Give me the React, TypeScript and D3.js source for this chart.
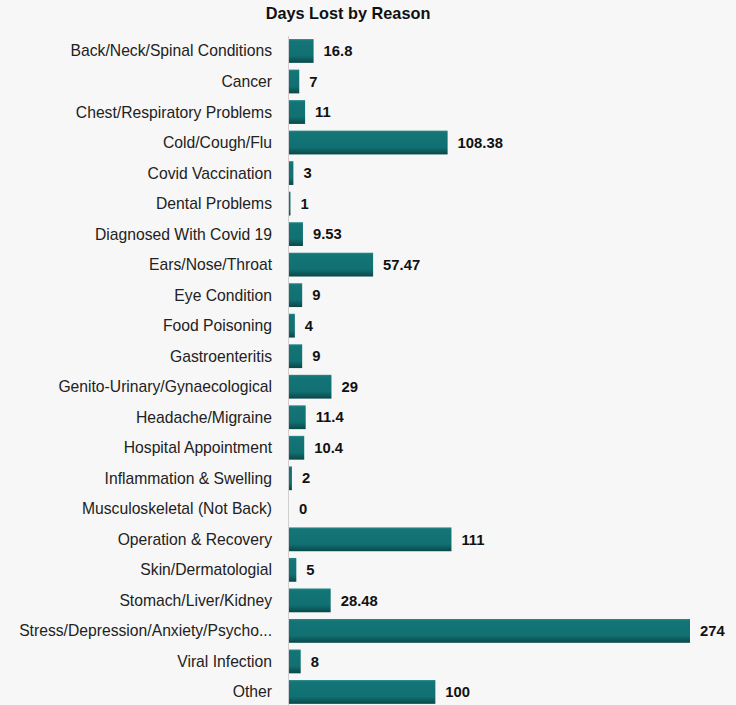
import React from "react";
import * as d3 from "d3";

const categories = [
  "Back/Neck/Spinal Conditions",
  "Cancer",
  "Chest/Respiratory Problems",
  "Cold/Cough/Flu",
  "Covid Vaccination",
  "Dental Problems",
  "Diagnosed With Covid 19",
  "Ears/Nose/Throat",
  "Eye Condition",
  "Food Poisoning",
  "Gastroenteritis",
  "Genito-Urinary/Gynaecological",
  "Headache/Migraine",
  "Hospital Appointment",
  "Inflammation & Swelling",
  "Musculoskeletal (Not Back)",
  "Operation & Recovery",
  "Skin/Dermatologial",
  "Stomach/Liver/Kidney",
  "Stress/Depression/Anxiety/Psycho...",
  "Viral Infection",
  "Other",
];
const values = [16.8, 7, 11, 108.38, 3, 1, 9.53, 57.47, 9, 4, 9, 29, 11.4, 10.4, 2, 0, 111, 5, 28.48, 274, 8, 100];
const valueLabels = ["16.8", "7", "11", "108.38", "3", "1", "9.53", "57.47", "9", "4", "9", "29", "11.4", "10.4", "2", "0", "111", "5", "28.48", "274", "8", "100"];
const title = "Days Lost by Reason";

export default function App() {
  const W = 736, H = 705;
  const x0 = 289;
  const x = d3.scaleLinear().domain([0, 274]).range([x0, 690]);
  const y = d3.scaleBand<string>().domain(categories).range([35.7, 707.2]).paddingInner(0.22).paddingOuter(0.11);
  const font = "'Liberation Sans', Arial, sans-serif";
  return (
    <svg width={W} height={H} style={{ position: "absolute", left: 0, top: 0, display: "block" }}>
      <defs>
        <linearGradient id="barGrad" x1="0" y1="0" x2="0" y2="1">
          <stop offset="0" stopColor="#2a8a8b" />
          <stop offset="0.08" stopColor="#147576" />
          <stop offset="0.7" stopColor="#117071" />
          <stop offset="1" stopColor="#0a4748" />
        </linearGradient>
      </defs>
      <rect x={0} y={0} width={W} height={H} fill="#f7f7f7" />
      <text x={348} y={19} textAnchor="middle" fontFamily={font} fontWeight="bold" fontSize={16.3} fill="#111">{title}</text>
      <line x1={x0 - 0.5} x2={x0 - 0.5} y1={36} y2={H} stroke="#cfcfcf" strokeWidth={1} />
      {categories.map((c, i) => {
        const yy = y(c)!;
        const bw = y.bandwidth();
        const cy = yy + bw / 2;
        const v = values[i];
        return (
          <g key={c}>
            <text x={272} y={cy} dy="0.35em" textAnchor="end" fontFamily={font} fontSize={15.7} fill="#222">{c}</text>
            {v > 0 && <rect x={x0} y={yy} width={Math.max(x(v) - x0, 0)} height={bw} fill="url(#barGrad)" />}
            <text x={x(v) + 10} y={cy} dy="0.35em" fontFamily={font} fontWeight="bold" fontSize={14.8} fill="#111">{valueLabels[i]}</text>
          </g>
        );
      })}
    </svg>
  );
}
